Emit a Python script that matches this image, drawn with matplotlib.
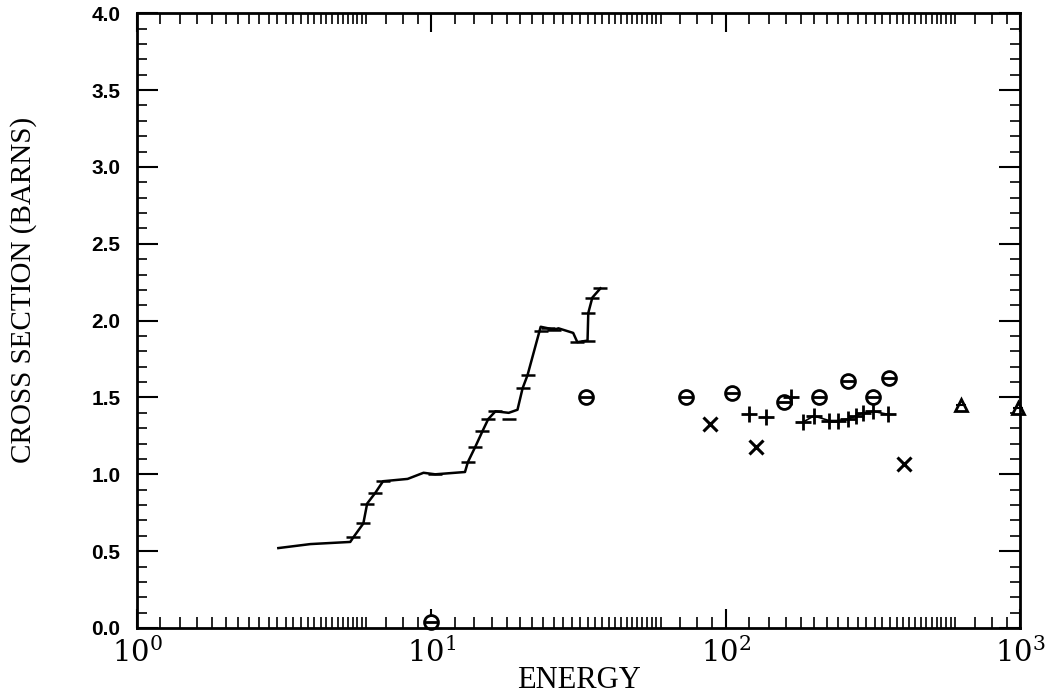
import numpy as np
import matplotlib.pyplot as plt
from matplotlib.ticker import FixedLocator, NullFormatter, MultipleLocator, FuncFormatter

# evaluated curve (energy, cross section)
curve_e = [3.02, 3.88, 5.3, 5.43, 5.87, 6.05, 6.45, 6.85, 8.3, 9.4, 10.3, 13.0,
           13.3, 14.1, 14.9, 15.6, 16.5, 18.3, 19.6, 20.4, 21.2, 23.5, 24.9,
           26.0, 27.0, 30.3, 31.3, 33.9, 34.1, 35.2, 37.5]
curve_s = [0.52, 0.546, 0.56, 0.59, 0.68, 0.81, 0.88, 0.955, 0.97, 1.01, 1.0, 1.015,
           1.08, 1.18, 1.28, 1.36, 1.41, 1.40, 1.42, 1.56, 1.645, 1.96, 1.95,
           1.94, 1.95, 1.92, 1.86, 1.87, 2.05, 2.15, 2.21]
# points with horizontal bars on the curve
bar_e = [5.43, 5.87, 6.05, 6.45, 6.85, 10.3, 13.3, 14.1, 14.9, 15.6, 16.5, 18.3,
         20.4, 21.2, 23.5, 24.9, 26.0, 31.3, 33.9, 34.1, 35.2, 37.5]
bar_s = [0.59, 0.68, 0.81, 0.88, 0.955, 1.0, 1.08, 1.18, 1.28, 1.36, 1.41, 1.36,
         1.56, 1.645, 1.93, 1.95, 1.94, 1.86, 1.87, 2.05, 2.15, 2.21]

theta_e = [10.0, 33.4, 73.1, 104.8, 157, 207, 260, 316, 358]
theta_s = [0.04, 1.50, 1.50, 1.53, 1.47, 1.50, 1.61, 1.50, 1.625]

cross_e = [88.2, 126.5, 403]
cross_s = [1.33, 1.18, 1.07]

plus_e = [119.7, 136.8, 166, 183, 199, 224, 240, 260, 277, 292, 316, 356]
plus_s = [1.39, 1.37, 1.50, 1.34, 1.38, 1.35, 1.35, 1.36, 1.38, 1.40, 1.41, 1.39]

tri_e = [630, 980]
tri_s = [1.45, 1.43]

fig = plt.figure(figsize=(10.54, 6.97), dpi=100)
ax = fig.add_axes([0.130, 0.099, 0.838, 0.882])

ax.plot(curve_e, curve_s, color='black', lw=1.8)
ax.plot(bar_e, bar_s, ls='none', marker='_', ms=10, mew=1.8, color='black')

ax.plot(theta_e, theta_s, ls='none', marker='o', ms=10, mfc='white', mec='black', mew=2, clip_on=False)
ax.plot(theta_e, theta_s, ls='none', marker='_', ms=9, mew=2, color='black', clip_on=False)
ax.plot(cross_e, cross_s, ls='none', marker='x', ms=10, mew=2.2, color='black')
ax.plot(plus_e[:3], plus_s[:3], ls='none', marker='+', ms=12, mew=2, color='black')
ax.plot(plus_e[3:], plus_s[3:], ls='-', lw=1.2, marker='+', ms=12, mew=2, color='black')
ax.plot(tri_e, tri_s, ls='none', marker='^', ms=9, mfc='white', mec='black', mew=2, clip_on=False)
ax.plot(tri_e, tri_s, ls='none', marker='_', ms=7, mew=1.5, color='black', clip_on=False)

ax.set_xscale('log')
ax.set_xlim(1, 1000)
ax.set_ylim(0, 4)

# minor ticks: integer steps plus finer steps in the lower part of each decade
minor_mid = []
minor_small = []
for d in [1, 10, 100]:
    for k in range(2, 10):
        minor_mid.append(k * d)
    for k in np.arange(1.2, 6.0, 0.2):
        if abs(k - round(k)) > 1e-6:
            minor_small.append(k * d)

ax.xaxis.set_major_locator(FixedLocator([1, 10, 100, 1000]))
ax.xaxis.set_minor_locator(FixedLocator(minor_mid + minor_small))
ax.xaxis.set_minor_formatter(NullFormatter())
ax.xaxis.set_major_formatter(FuncFormatter(lambda v, p: r'$\mathregular{10^{%d}}$' % round(np.log10(v))))
ax.yaxis.set_major_locator(MultipleLocator(0.5))
ax.yaxis.set_minor_locator(MultipleLocator(0.1))
ax.yaxis.set_major_formatter(FuncFormatter(lambda v, p: '%.1f' % v))

ax.tick_params(which='both', direction='in', top=True, right=True, color='black')
ax.tick_params(axis='x', which='major', length=14, width=1.5, pad=7)
ax.tick_params(axis='x', which='minor', length=8, width=1.2)
ax.tick_params(axis='y', which='major', length=15, width=1.5, pad=12)
ax.tick_params(axis='y', which='minor', length=7, width=1.2)

for lab in ax.get_xticklabels():
    lab.set_fontfamily('DejaVu Serif')
    lab.set_fontsize(21)
for lab in ax.get_yticklabels():
    lab.set_fontfamily('Liberation Sans')
    lab.set_fontweight('bold')
    lab.set_fontsize(15)

for sp in ax.spines.values():
    sp.set_linewidth(2)

ax.set_xlabel('ENERGY', fontfamily='Liberation Serif', fontsize=22, labelpad=-2)
ax.set_ylabel('CROSS SECTION (BARNS)', fontfamily='Liberation Serif', fontsize=21)
ax.yaxis.set_label_coords(-0.113, 0.55)

fig.savefig('out.png', dpi=100)
